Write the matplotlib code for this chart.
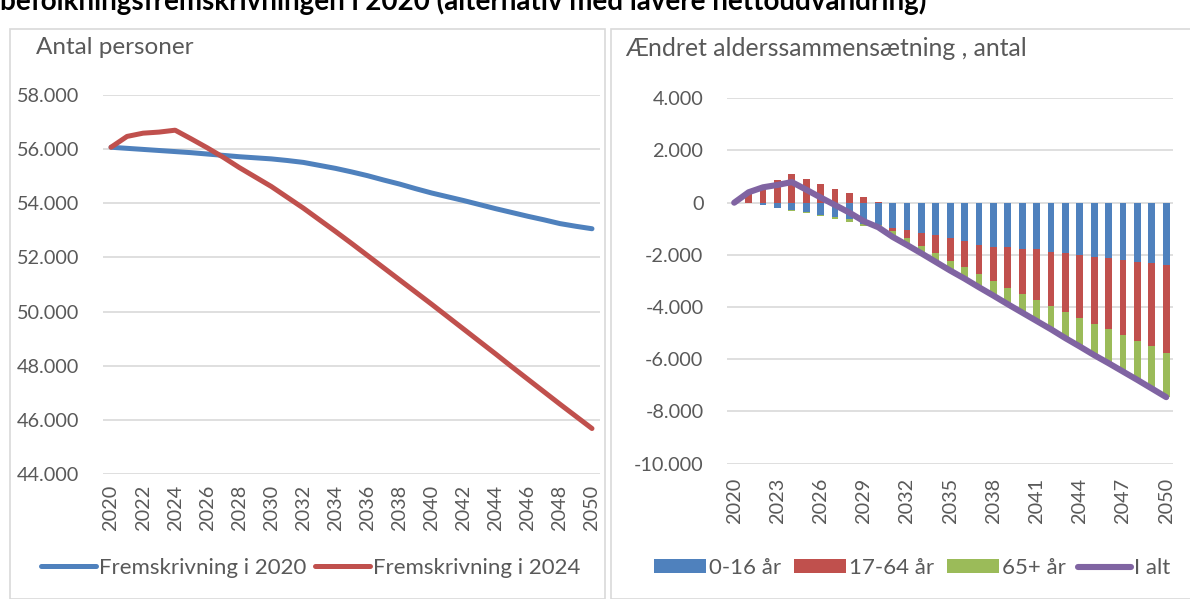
import numpy as np
import matplotlib.pyplot as plt
from matplotlib.patches import Rectangle
from matplotlib.ticker import FuncFormatter

plt.rcParams['font.family'] = ['Lato', 'DejaVu Sans']

W, H = 1190, 599
grey = '#595959'
gridc = '#D9D9D9'

# data
years = list(range(2020, 2051))
proj2020 = [56070, 56030, 55990, 55950, 55910, 55870, 55820, 55770, 55720, 55680,
            55640, 55580, 55510, 55400, 55290, 55160, 55020, 54860, 54710, 54540,
            54380, 54240, 54100, 53950, 53800, 53660, 53520, 53390, 53250, 53150, 53060]
proj2024 = [56070, 56470, 56590, 56630, 56700, 56380, 56050, 55700, 55320, 54970,
            54620, 54220, 53820, 53390, 52960, 52520, 52070, 51620, 51170, 50720,
            50270, 49810, 49350, 48890, 48430, 47960, 47500, 47040, 46580, 46130, 45680]

age0_16 = [0, -20, -80, -190, -280, -360, -470, -560, -640, -820, -870, -960, -1050,
           -1170, -1240, -1370, -1470, -1610, -1710, -1700, -1790, -1790, -1880, -1940,
           -2020, -2070, -2130, -2210, -2260, -2320, -2390]
age17_64 = [0, 420, 670, 870, 1090, 890, 700, 520, 360, 200, 30, -130, -290, -470,
            -700, -860, -1010, -1140, -1290, -1550, -1700, -1920, -2090, -2250, -2400,
            -2580, -2720, -2870, -3050, -3170, -3360]
age65 = [0, 0, 0, 0, -20, -30, -30, -50, -100, -90, -100, -220, -280, -300, -330,
         -370, -430, -490, -560, -640, -720, -820, -880, -1000, -1090, -1190, -1300,
         -1390, -1480, -1630, -1700]
total = [0, 400, 590, 680, 790, 500, 200, -90, -380, -710, -940, -1310, -1620, -1940,
         -2270, -2600, -2910, -3240, -3560, -3890, -4210, -4530, -4850, -5190, -5510,
         -5840, -6150, -6470, -6790, -7120, -7450]


def dk(v, pos):
    s = f"{abs(int(round(v))):,}".replace(",", ".")
    return ("-" if v < 0 else "") + s


def style(ax, ypad, xpad):
    for s in ax.spines.values():
        s.set_visible(False)
    ax.grid(axis='y', color=gridc, lw=1.2)
    ax.set_axisbelow(True)
    ax.tick_params(length=0, labelsize=14.3, colors=grey)
    ax.tick_params(axis='y', pad=ypad)
    ax.tick_params(axis='x', pad=xpad, labelrotation=90)
    ax.yaxis.set_major_formatter(FuncFormatter(dk))


fig = plt.figure(figsize=(W / 100, H / 100), dpi=100)

# panel frames
fig.patches.append(Rectangle((9.5 / W, 0), 595 / W, 1 - 28.5 / H, transform=fig.transFigure,
                             fill=False, ec=gridc, lw=1.2))
fig.patches.append(Rectangle((611 / W, 0), 600 / W, 1 - 28.5 / H, transform=fig.transFigure,
                             fill=False, ec=gridc, lw=1.2))

fig.text(0, 1 - 10 / H, "befolkningsfremskrivningen i 2020 (alternativ med lavere nettoudvandring)",
         fontsize=20, fontweight='bold', va='baseline', ha='left', color='black')

# left chart
ax1 = fig.add_axes([103 / W, 1 - 474 / H, 497 / W, 379 / H])
ax1.plot(years, proj2020, color='#4F81BD', lw=3.6, solid_capstyle='round',
         label='Fremskrivning i 2020')
ax1.plot(years, proj2024, color='#C0504D', lw=3.6, solid_capstyle='round',
         label='Fremskrivning i 2024')
ax1.set_xlim(2019.5, 2050.5)
ax1.set_ylim(44000, 58000)
ax1.set_yticks(range(44000, 58001, 2000))
ax1.set_xticks(years[::2])
style(ax1, 17, 8)
fig.text(36 / W, 1 - 48 / H, "Antal personer", fontsize=17.5, color=grey, va='center')
fig.legend(*ax1.get_legend_handles_labels(), loc='center', bbox_to_anchor=(311 / W, 1 - 568 / H),
           ncol=2, frameon=False, fontsize=16, labelcolor=grey, handlelength=2.45,
           handletextpad=0.15, columnspacing=0.4)

# right chart
ax2 = fig.add_axes([727 / W, 1 - 463.7 / H, 446.4 / W, 365.4 / H])
pos_b = np.zeros(len(years))
neg_b = np.zeros(len(years))
for vals, col, lab in [(age0_16, '#4F81BD', '0-16 år'), (age17_64, '#C0504D', '17-64 år'),
                       (age65, '#9BBB59', '65+ år')]:
    v = np.array(vals, dtype=float)
    bottom = np.where(v >= 0, pos_b, neg_b)
    ax2.bar(years, v, 0.48, bottom=bottom, color=col, label=lab)
    pos_b += np.where(v >= 0, v, 0)
    neg_b += np.where(v < 0, v, 0)
ax2.plot(years, total, color='#8064A2', lw=4.4, solid_capstyle='round', label='I alt')
ax2.set_xlim(2019.5, 2050.5)
ax2.set_ylim(-10000, 4000)
ax2.set_yticks(range(-10000, 4001, 2000))
ax2.set_xticks(years[::3])
style(ax2, 17, 10)
fig.text(625 / W, 1 - 48 / H, "Ændret alderssammensætning , antal", fontsize=17.8, color=grey,
         va='center')
h, l = ax2.get_legend_handles_labels()
order = [1, 2, 3, 0]
fig.legend([h[i] for i in order], [l[i] for i in order], loc='center',
           bbox_to_anchor=(912 / W, 1 - 568 / H), ncol=4, frameon=False, fontsize=16,
           labelcolor=grey, handlelength=2.35, handleheight=0.6, handletextpad=0.15,
           columnspacing=0.55)

fig.savefig('out.png', dpi=100)
